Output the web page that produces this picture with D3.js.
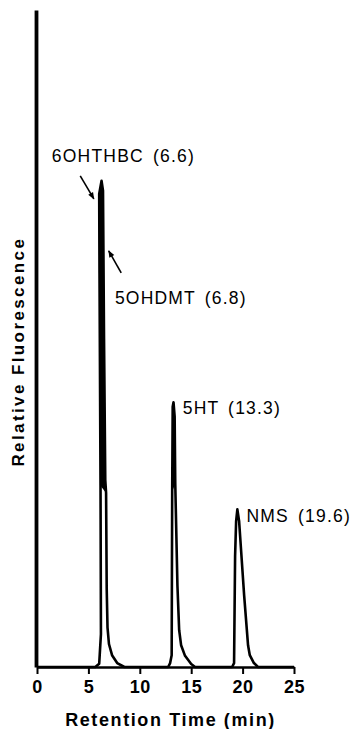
<!DOCTYPE html>
<html>
<head>
<meta charset="utf-8">
<script src="https://cdn.jsdelivr.net/npm/d3@7"></script>
<style>
  body { margin: 0; background: #fff; }
  svg { display: block; font-family: "Liberation Sans", Arial, sans-serif; }
</style>
</head>
<body>
<div id="chart"></div>
<script>
// chromatogram trace (time in min, relative fluorescence 0-100)
const traceTime = [
    0, 5.67,
    6.05, 6.22, 6.18, 6.08, 6.05, 6.28, 6.42, 6.52, 6.64, 6.72, 6.78, 6.86, 7.0, 7.3, 7.8, 8.5,
    12.76,
    12.95, 13.1, 13.15, 13.2, 13.28, 13.39, 13.45, 13.66, 13.83, 14.02, 14.4, 15.0, 15.38,
    18.98,
    19.17, 19.27, 19.37, 19.49, 19.66, 19.76, 20.15, 20.53, 20.7, 21.1, 21.5,
    25
];
const traceSignal = [
    0, 0,
    0.5, 5, 27.6, 60, 72, 74, 72.5, 50, 28.5, 26.5, 12, 6, 3.5, 1.8, 0.6, 0,
    0,
    0.6, 1.8, 26.7, 39.6, 40.3, 38.1, 27.9, 12.4, 5.6, 3.3, 1.7, 0.45, 0,
    0,
    0.6, 16.9, 22.2, 24.0, 22.2, 19.9, 10.9, 3.3, 1.8, 0.6, 0,
    0
];

// peak annotations
const peakNames = ["6OHTHBC", "5OHDMT", "5HT", "NMS"];
const peakTimes = [6.6, 6.8, 13.3, 19.6];
const peakHeights = [74, 74, 40.3, 24];

const xTicks = [0, 5, 10, 15, 20, 25];

const width = 357;
const height = 729;
const margin = { top: 10, right: 63, bottom: 57, left: 37 };

const data = traceTime.map((t, i) => ({ t: t, s: traceSignal[i] }));

// scales
const x = d3.scaleLinear()
    .domain([0, 25])
    .range([margin.left, width - margin.right]);

const y = d3.scaleLinear()
    .domain([0, 100])
    .range([height - margin.bottom - 5, margin.top]);

const svg = d3.create("svg")
    .attr("width", width)
    .attr("height", height);

// arrow head
svg.append("defs").append("marker")
    .attr("id", "arrow")
    .attr("markerUnits", "userSpaceOnUse")
    .attr("viewBox", "0 -5 10 10")
    .attr("refX", 9)
    .attr("refY", 0)
    .attr("markerWidth", 9)
    .attr("markerHeight", 7)
    .attr("orient", "auto")
    .append("path")
    .attr("d", "M0,-4L10,0L0,4Z")
    .attr("fill", "#000");

// trace
const line = d3.line()
    .x(d => x(d.t))
    .y(d => y(d.s));

// heavy ink where the pen went over the upper part of the tall peaks
svg.append("path")
    .datum(data)
    .attr("fill", "#000")
    .attr("stroke", "none")
    .attr("d", line.defined(d => d.s >= 26)(data));
line.defined(() => true);

svg.append("path")
    .datum(data)
    .attr("fill", "none")
    .attr("stroke", "#000")
    .attr("stroke-width", 2.6)
    .attr("stroke-linejoin", "round")
    .attr("d", line);

// x axis
svg.append("g")
    .attr("transform", `translate(0,${y(0)})`)
    .call(d3.axisBottom(x).tickValues(xTicks).tickSize(7).tickSizeOuter(0).tickPadding(6))
    .call(g => g.select(".domain").attr("stroke-width", 2.6))
    .call(g => g.selectAll(".tick line").attr("stroke-width", 2))
    .call(g => g.selectAll(".tick text")
        .attr("font-size", 18)
        .attr("font-weight", "bold")
        .attr("font-family", "Liberation Sans, Arial, sans-serif")
        .style("letter-spacing", "0.5px"));

// y axis (no ticks, heavy line)
svg.append("g")
    .attr("transform", `translate(${x(0) - 1},0)`)
    .call(d3.axisLeft(y).tickValues([]).tickSizeOuter(0))
    .call(g => g.select(".domain").attr("stroke-width", 3.8));

// axis titles
svg.append("text")
    .attr("x", x(12.5) + 5)
    .attr("y", height - 3)
    .attr("text-anchor", "middle")
    .attr("font-size", 18)
    .attr("font-weight", "bold")
    .style("letter-spacing", "1.6px")
    .text("Retention Time (min)");

svg.append("text")
    .attr("transform", `translate(24,${y(48)}) rotate(-90)`)
    .attr("text-anchor", "middle")
    .attr("font-size", 17)
    .attr("font-weight", "bold")
    .style("letter-spacing", "2.4px")
    .text("Relative Fluorescence");

// label layout (pixel offsets from peak time / height)
const labelPos = [
    { dx: -53, dy: -19, arrow: [[-24.6, -5], [-11, 18]] },
    { dx: 8, dy: 123, arrow: [[14.3, 92], [1.8, 70]] },
    { dx: 9, dy: 12 },
    { dx: 8, dy: 13 }
];

peakNames.forEach((name, i) => {
    const px = x(peakTimes[i]);
    const py = y(peakHeights[i]);
    const p = labelPos[i];

    svg.append("text")
        .attr("x", px + p.dx)
        .attr("y", py + p.dy)
        .attr("font-size", 17.5)
        .style("letter-spacing", "1.2px")
        .style("word-spacing", "3px")
        .text(`${name} (${peakTimes[i]})`);

    if (p.arrow) {
        svg.append("line")
            .attr("x1", px + p.arrow[0][0])
            .attr("y1", py + p.arrow[0][1])
            .attr("x2", px + p.arrow[1][0])
            .attr("y2", py + p.arrow[1][1])
            .attr("stroke", "#000")
            .attr("stroke-width", 1.6)
            .attr("marker-end", "url(#arrow)");
    }
});

document.getElementById("chart").appendChild(svg.node());
</script>
</body>
</html>
